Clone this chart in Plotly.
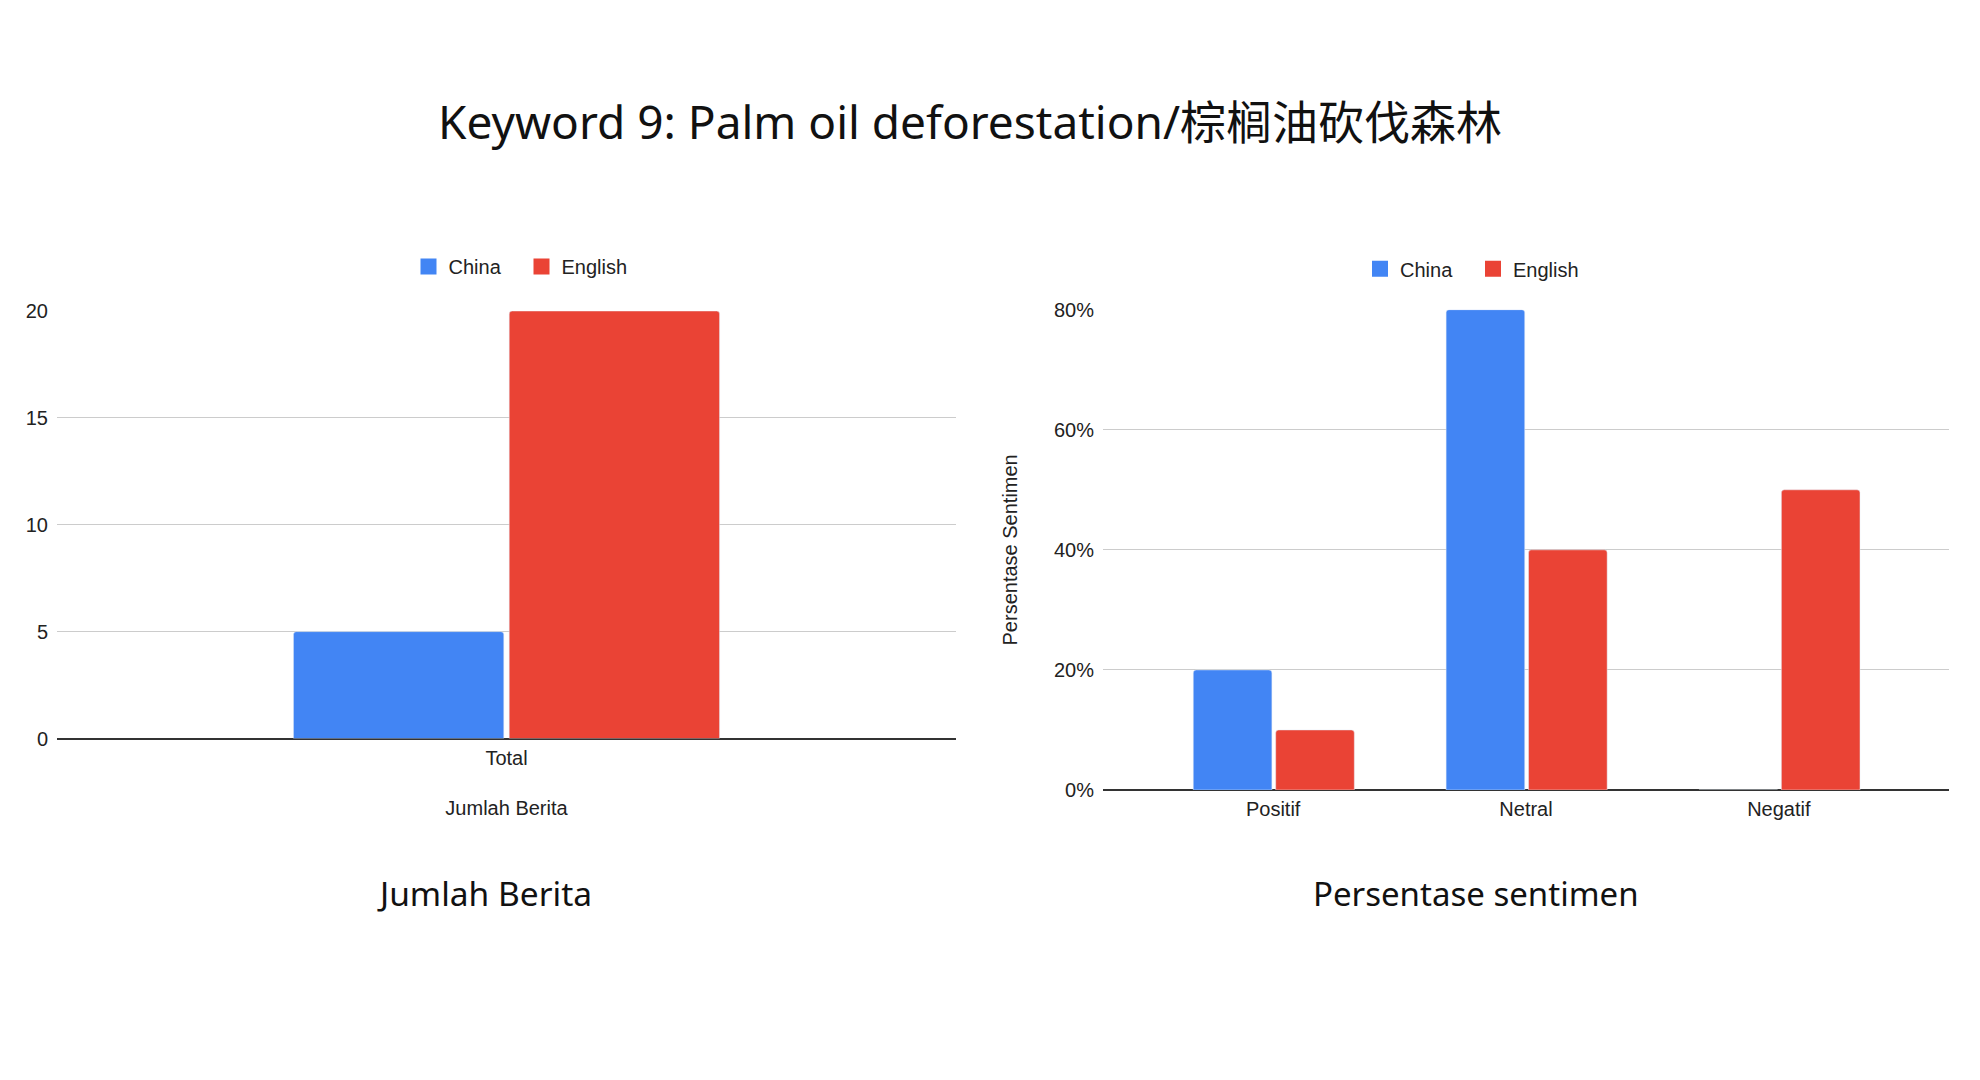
import plotly.graph_objects as go

# data
series_names = ["China", "English"]
colors = ["#4285F4", "#EA4335"]

total_cats = ["Total"]
total_china = [5]
total_english = [20]

sent_cats = ["Positif", "Netral", "Negatif"]
sent_china = [0.20, 0.80, 0.0]
sent_english = [0.10, 0.40, 0.50]

title_text = "Keyword 9: Palm oil deforestation/棕榈油砍伐森林"
sub_left = "Jumlah Berita"
sub_right = "Persentase sentimen"

W, H = 1980, 1080
OFF = 8  # page body margin shifts the figure by 8px

def px(v):
    return (v - OFF) / W

def py(v):
    return 1 - (v - OFF) / H

chart_font = dict(family="Liberation Sans, Arial", size=20, color="#222222")
big_font = "Noto Sans, Noto Sans CJK SC"

fig = go.Figure()

# left chart: jumlah berita
fig.add_trace(go.Bar(x=total_cats, y=total_china, name=series_names[0], marker_color=colors[0],
                     width=0.234, offset=-0.237, marker_cornerradius=3, showlegend=False,
                     xaxis="x", yaxis="y"))
fig.add_trace(go.Bar(x=total_cats, y=total_english, name=series_names[1], marker_color=colors[1],
                     width=0.234, offset=0.003, marker_cornerradius=3, showlegend=False,
                     xaxis="x", yaxis="y"))

# right chart: persentase sentimen
fig.add_trace(go.Bar(x=sent_cats, y=sent_china, name=series_names[0], marker_color=colors[0],
                     width=0.311, offset=-0.316, marker_cornerradius=3, showlegend=False,
                     xaxis="x2", yaxis="y2"))
fig.add_trace(go.Bar(x=sent_cats, y=sent_english, name=series_names[1], marker_color=colors[1],
                     width=0.311, offset=0.01, marker_cornerradius=3, showlegend=False,
                     xaxis="x2", yaxis="y2"))

# legend entries (square swatches like the sheets legend)
for lg, xa, ya in [("legend", "x", "y"), ("legend2", "x2", "y2")]:
    for name, col in zip(series_names, colors):
        fig.add_trace(go.Scatter(x=[None], y=[None], mode="markers", name=name,
                                 marker=dict(symbol="square", size=16, color=col),
                                 xaxis=xa, yaxis=ya, legend=lg))

fig.update_layout(
    width=W, height=H,
    margin=dict(l=0, r=0, t=0, b=0, autoexpand=False),
    paper_bgcolor="white", plot_bgcolor="white",
    font=chart_font,
    barmode="overlay",
    title=dict(text=title_text, x=px(970), y=py(123), xanchor="center", yanchor="middle",
               font=dict(family=big_font, size=46, color="#111111")),
    xaxis=dict(domain=[px(57), px(956)], anchor="y", showgrid=False, showline=False,
               ticks="", range=[-0.5, 0.5], automargin=False, ticklabelstandoff=5,
               title=dict(text="Jumlah Berita", standoff=33, font=chart_font)),
    yaxis=dict(domain=[py(738.5), py(311)], anchor="x", range=[0, 20], automargin=False,
               tickvals=[0, 5, 10, 15, 20], gridcolor="#cccccc", gridwidth=1.2,
               zeroline=True, zerolinecolor="#333333", zerolinewidth=1.5,
               ticklabelstandoff=8),
    xaxis2=dict(domain=[px(1103), px(1949)], anchor="y2", showgrid=False, showline=False,
                ticks="", range=[-0.673, 2.673], automargin=False, ticklabelstandoff=5),
    yaxis2=dict(domain=[py(790), py(309.7)], anchor="x2", range=[0, 0.8], automargin=False,
                tickvals=[0, 0.2, 0.4, 0.6, 0.8], tickformat=".0%",
                gridcolor="#cccccc", gridwidth=1.2,
                zeroline=True, zerolinecolor="#333333", zerolinewidth=1.5,
                ticklabelstandoff=8,
                title=dict(text="Persentase Sentimen", standoff=30, font=chart_font)),
    legend=dict(orientation="h", x=px(521.5), y=py(266.5), xanchor="center", yanchor="middle",
                font=chart_font, itemsizing="trace", entrywidth=68),
    legend2=dict(orientation="h", x=px(1473), y=py(268.7), xanchor="center", yanchor="middle",
                 font=chart_font, itemsizing="trace", entrywidth=68),
    annotations=[
        dict(text=sub_left, x=px(484), y=py(893), xref="paper", yref="paper",
             showarrow=False, xanchor="center", yanchor="middle",
             font=dict(family=big_font, size=33.5, color="#111111")),
        dict(text=sub_right, x=px(1476), y=py(893), xref="paper", yref="paper",
             showarrow=False, xanchor="center", yanchor="middle",
             font=dict(family=big_font, size=33, color="#111111")),
    ],
)

fig.write_html("out.html")
